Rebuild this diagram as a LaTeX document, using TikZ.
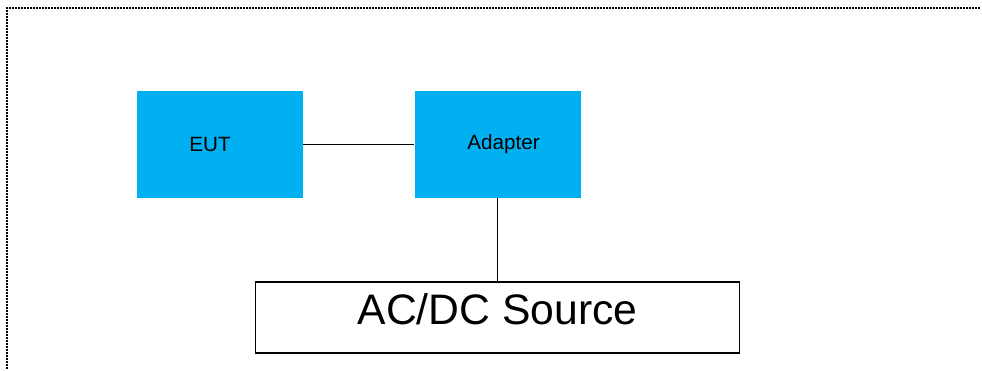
\documentclass[tikz,border=0pt]{standalone}
\usepackage{fontspec}
\setmainfont{Liberation Sans}
\usetikzlibrary{positioning}
\definecolor{unitblue}{RGB}{0,176,240}
\begin{document}
\begin{tikzpicture}[x=0.75pt, y=-0.75pt, node distance=83.25pt,
    unit/.style = {fill=unitblue, minimum width=124.5pt, minimum height=80pt, inner sep=0pt, font=\fontsize{15.5}{18}\selectfont},
    source/.style = {draw, line width=1.3pt, minimum width=363pt, minimum height=53.25pt, inner sep=0pt, font=\fontsize{32}{36}\selectfont, text height=23pt, text depth=13pt},
    wire/.style = {line width=1.3pt}]
        \useasboundingbox (0,0) rectangle (982,371);
        % dotted frame
        \foreach \x in {9,12,...,978}
            \fill (\x,7.2) rectangle ++(1.7,1.7);
        \foreach \y in {7,10,...,369}
            \fill (6.2,\y) rectangle ++(1.7,1.7);
        \node[unit] (eut) at (220,144.5) {EUT\kern15pt};
        \node[unit] (adapter) [right=83.25pt of eut] {\kern9pt Adapter};
        \node[source] (source) [below=62.25pt of adapter] {AC/DC Source};
        \draw[wire] (eut) -- (adapter);
        \draw[wire] (adapter) -- (source);
    \end{tikzpicture}
\end{document}
